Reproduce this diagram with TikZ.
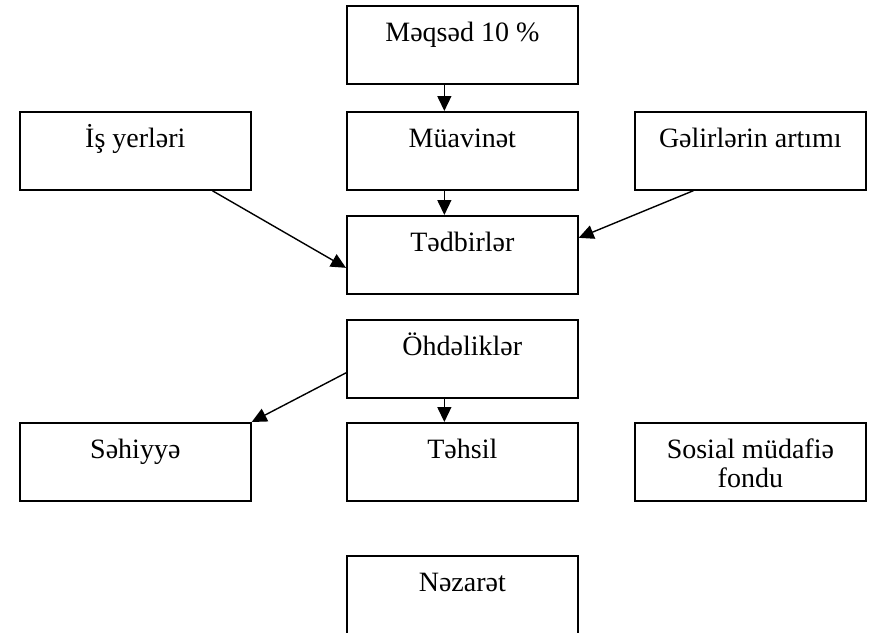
\documentclass[tikz,border=0pt]{standalone}
\usepackage{fontspec}
\setmainfont{Liberation Serif}
\usetikzlibrary{arrows.meta}

\begin{document}
\begin{tikzpicture}[x=1pt,y=-1pt,
  box/.style={draw, line width=1.7pt, anchor=north west, align=center,
    minimum width=231pt, minimum height=78pt, inner sep=0pt,
    text height=36pt, text depth=42pt, font=\fontsize{28}{29}\selectfont},
  arr/.style={line width=1.4pt, -{Triangle[length=15pt,width=14pt]}}]
\useasboundingbox (0,0) rectangle (870,632);
\node[box] (maqsad) at (346,5) {Məqsəd 10 \%};
\node[box] (isyer) at (19,111) {İş yerləri};
\node[box] (muavinet) at (346,111) {Müavinət};
\node[box] (gelir) at (634,111) {Gəlirlərin artımı};
\node[box] (tedbir) at (346,215) {Tədbirlər};
\node[box] (ohdelik) at (346,319) {Öhdəliklər};
\node[box] (sehiyye) at (19,422) {Səhiyyə};
\node[box] (tehsil) at (346,422) {Təhsil};
\node[box, text height=65pt, text depth=13pt] (sosial) at (634,422) {Sosial müdafiə\\fondu};
\node[box] (nezaret) at (346,555) {Nəzarət};
\draw[arr] ([xshift=-18pt]maqsad.south) -- ([xshift=-18pt]muavinet.north);
\draw[arr] ([xshift=-18pt]muavinet.south) -- ([xshift=-18pt]tedbir.north);
\draw[arr] ([xshift=77pt]isyer.south) -- ([yshift=-13pt]tedbir.west);
\draw[arr] ([xshift=-57pt]gelir.south) -- ([yshift=17pt]tedbir.east);
\draw[arr] ([yshift=-14pt]ohdelik.west) -- (sehiyye.north east);
\draw[arr] ([xshift=-18pt]ohdelik.south) -- ([xshift=-18pt]tehsil.north);
\end{tikzpicture}
\end{document}
